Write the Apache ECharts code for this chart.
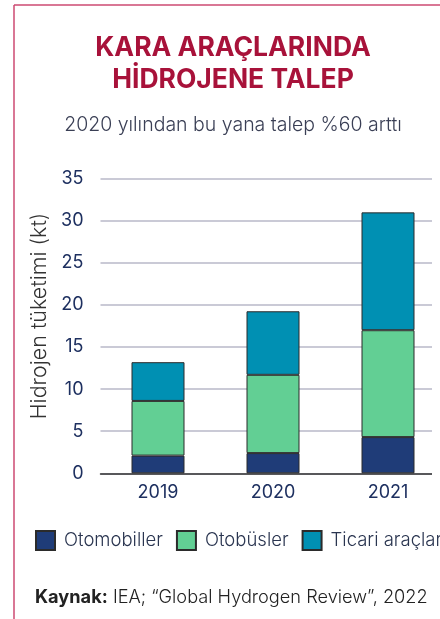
<!DOCTYPE html>
<html>
<head>
<meta charset="utf-8">
<title>Kara araçlarında hidrojene talep</title>
<script src="https://cdn.jsdelivr.net/npm/echarts@6/dist/echarts.min.js"></script>
<style>
  html, body { margin: 0; padding: 0; background: #fff; overflow: hidden; }
  /* sağdaki lejant kırpılıyor, bu yüzden kap pencereden biraz geniş */
  #main { width: 470px; height: 619px; }
</style>
</head>
<body>
<div id="main"></div>
<script>
// veriler (kt)
var years = ['2019', '2020', '2021'];
var otomobiller = [2.1, 2.4, 4.3];
var otobusler = [6.5, 9.3, 12.7];
var ticari = [4.6, 7.55, 14.0];
var seriesNames = ['Otomobiller', 'Otobüsler', 'Ticari araçlar'];
var colors = ['#1f3c78', '#62cf94', '#0090b3'];

var chart = echarts.init(document.getElementById('main'));
var font = 'Inter, Roboto, sans-serif';
var navy = '#1e3060';

function bar(name, data, color) {
  return {
    name: name,
    type: 'bar',
    stack: 'toplam',
    data: data,
    barWidth: 53,
    itemStyle: { color: color, borderColor: '#2b2b2b', borderWidth: 1 }
  };
}

chart.setOption({
  animation: false,
  textStyle: { fontFamily: font },
  color: colors,
  grid: { left: 100.5, width: 345, top: 178.7, bottom: 145.7 },
  legend: {
    left: 35, top: 530, width: 1000, padding: 0,
    icon: 'rect', itemWidth: 19, itemHeight: 19, itemGap: 13,
    data: seriesNames,
    textStyle: { fontSize: 18.5, fontWeight: 300, color: '#2a3550', padding: [0, 0, 0, 4] }
  },
  xAxis: {
    type: 'category',
    data: years,
    axisTick: { show: false },
    axisLine: { lineStyle: { color: '#333', width: 1.5 } },
    axisLabel: { color: navy, fontSize: 18, margin: 10 }
  },
  yAxis: {
    type: 'value',
    min: 0, max: 35, interval: 5,
    name: 'Hidrojen tüketimi (kt)',
    nameLocation: 'middle',
    nameGap: 44,
    nameTextStyle: { fontSize: 21.5, fontWeight: 300, color: '#333', padding: [0, 0, 0, 20] },
    axisLine: { show: false },
    axisTick: { show: false },
    axisLabel: { color: navy, fontSize: 18, margin: 17 },
    splitLine: { lineStyle: { color: '#b9b8c8', width: 1.5 } }
  },
  series: [
    bar(seriesNames[0], otomobiller, colors[0]),
    bar(seriesNames[1], otobusler, colors[1]),
    bar(seriesNames[2], ticari, colors[2])
  ],
  graphic: [
    // çerçeve
    { type: 'line', shape: { x1: 14, y1: 5, x2: 14, y2: 619 }, style: { stroke: '#cc4a72', lineWidth: 1.5 } },
    { type: 'line', shape: { x1: 14, y1: 5, x2: 470, y2: 5 }, style: { stroke: '#cc4a72', lineWidth: 1.5 } },
    // ızgara çizgilerinin sağ ucu
    { type: 'rect', shape: { x: 432, y: 170, width: 40, height: 310 }, style: { fill: '#fff' }, z: 100 },
    {
      type: 'text', x: 233, y: 48,
      style: { text: 'KARA ARAÇLARINDA', font: 'bold 26.5px ' + font, fill: '#a8123a', textAlign: 'center', textVerticalAlign: 'middle' }
    },
    {
      type: 'text', x: 233, y: 80,
      style: { text: 'HİDROJENE TALEP', font: 'bold 26.5px ' + font, fill: '#a8123a', textAlign: 'center', textVerticalAlign: 'middle' }
    },
    {
      type: 'text', x: 233, y: 125,
      style: { text: '2020 yılından bu yana talep %60 arttı', font: '300 19.5px ' + font, fill: '#3a3f55', textAlign: 'center', textVerticalAlign: 'middle' }
    },
    {
      type: 'text', x: 35, y: 598,
      style: {
        text: '{b|Kaynak:} IEA; “Global Hydrogen Review”, 2022',
        font: '300 18.2px ' + font, fill: '#222', textVerticalAlign: 'middle',
        rich: { b: { fontWeight: 'bold', fontSize: 18.2, fontFamily: font, fill: '#222' } }
      }
    }
  ]
});
</script>
</body>
</html>
